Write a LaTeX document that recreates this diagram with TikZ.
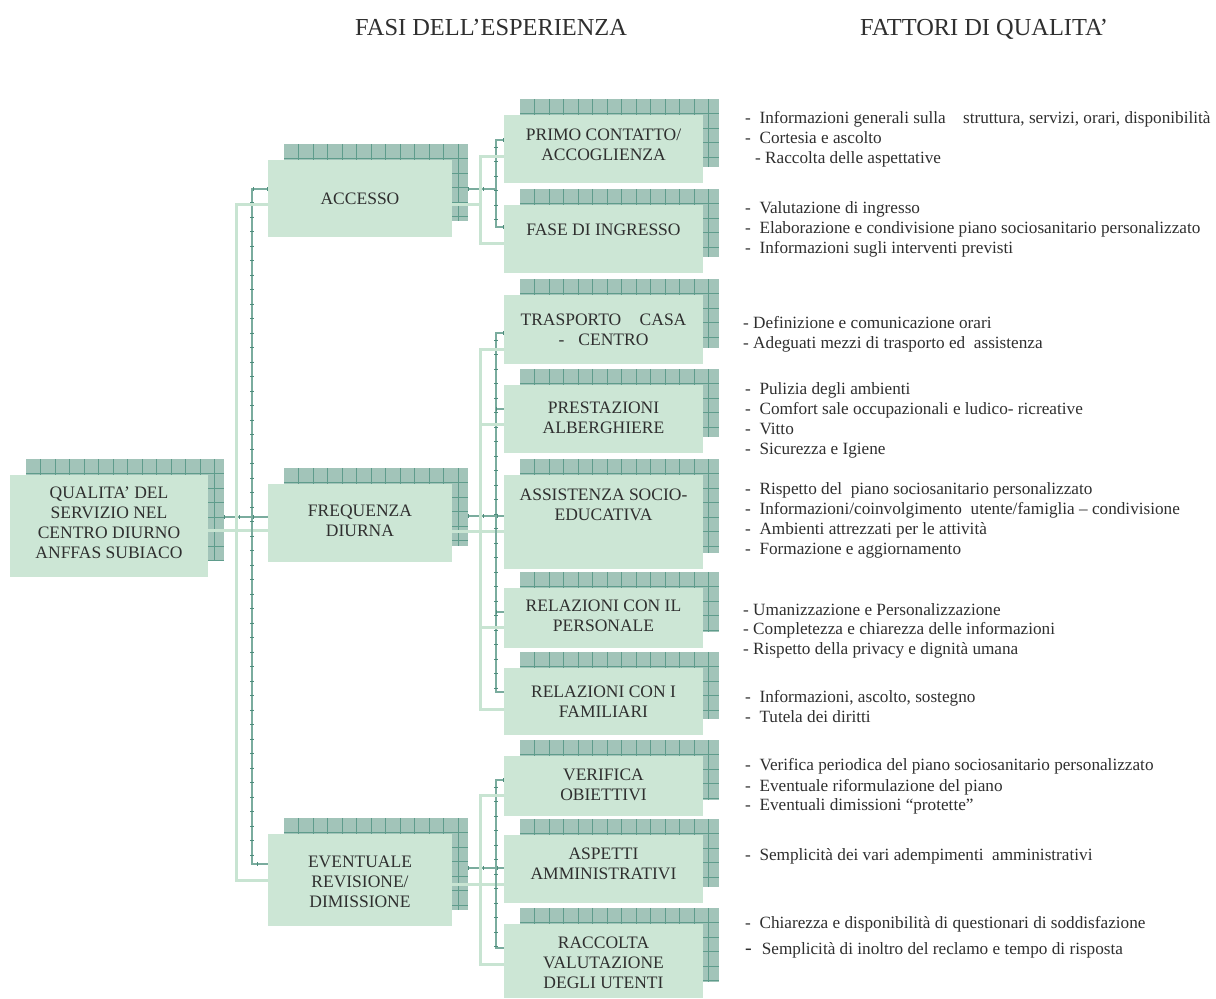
\documentclass[tikz,border=0pt]{standalone}
\usepackage{fontspec}
\setmainfont{Liberation Serif}
\usetikzlibrary{calc}
\pgfdeclarelayer{paper}
\pgfdeclarelayer{shad}
\pgfdeclarelayer{conn}
\pgfsetlayers{paper,shad,conn,main}

\definecolor{frontfill}{HTML}{CCE6D5}
\definecolor{shadefill}{HTML}{A2C4B9}
\definecolor{gridcol}{HTML}{5F9C8C}
\definecolor{linkdark}{HTML}{7AAC9E}
\definecolor{tickdark}{HTML}{4E8C7C}
\definecolor{linklight}{HTML}{C8E4D2}
\definecolor{ink}{HTML}{2F2F2F}

\tikzset{
  front/.style={fill=frontfill, anchor=north west, inner sep=0pt, outer sep=0pt},
  gridshade/.style={fill=shadefill, anchor=north west, inner sep=0pt, outer sep=0pt,
    path picture={
      \foreach \k in {1,...,14}{
        \draw[gridline] ([xshift=\k*14.5pt]path picture bounding box.north west)
          -- ([xshift=\k*14.5pt]path picture bounding box.south west);
        \draw[gridline] ([yshift=-\k*14.5pt]path picture bounding box.north west)
          -- ([yshift=-\k*14.5pt]path picture bounding box.north east);
      }
    }},
  gridline/.style={draw=gridcol, line width=0.8pt},
  wide/.style={minimum width=198pt},
  mid/.style={minimum width=184pt},
  narrow/.style={minimum width=199pt},
  boxlabel/.style={align=center, text=ink, inner sep=0pt,
    font=\fontsize{17.5}{20}\selectfont},
  item/.style={anchor=base west, text=ink, inner sep=0pt,
    font=\fontsize{17.2}{20}\selectfont},
  heading/.style={anchor=base west, text=ink, inner sep=0pt,
    font=\fontsize{24.4}{28}\selectfont},
  darklink/.style={draw=linkdark, line width=1.8pt,
    postaction={draw=tickdark, line width=3.2pt, dash pattern=on 1pt off 13.5pt}},
  lightlink/.style={draw=linklight, line width=3pt}
}

\begin{document}
\begin{tikzpicture}[x=1pt, y=-1pt]
\useasboundingbox (0,0) rectangle (1216,999);
\begin{pgfonlayer}{paper}
\fill[white] (0,0) rectangle (1216,999);
\end{pgfonlayer}

% column headings
\node[heading] (hfasi) at (355,35) {FASI DELL’ESPERIENZA};
\node[heading] (hfatt) at (860,35) {FATTORI DI QUALITA’};

% shaded grid plates behind every box
\begin{pgfonlayer}{shad}
\node[gridshade, wide,   minimum height=102pt] (rootS)   at (26,459)  {};
\node[gridshade, mid,    minimum height=77pt]  (accS)    at (284,144) {};
\node[gridshade, mid,    minimum height=78pt]  (freqS)   at (284,468) {};
\node[gridshade, mid,    minimum height=92pt]  (evS)     at (284,818) {};
\node[gridshade, narrow, minimum height=68pt]  (primoS)  at (520,99)  {};
\node[gridshade, narrow, minimum height=68pt]  (faseS)   at (520,189) {};
\node[gridshade, narrow, minimum height=69pt]  (traspS)  at (520,279) {};
\node[gridshade, narrow, minimum height=68pt]  (prestS)  at (520,369) {};
\node[gridshade, narrow, minimum height=94pt]  (assistS) at (520,459) {};
\node[gridshade, narrow, minimum height=60pt]  (persS)   at (520,572) {};
\node[gridshade, narrow, minimum height=67pt]  (famS)    at (520,652) {};
\node[gridshade, narrow, minimum height=60pt]  (verifS)  at (520,740) {};
\node[gridshade, narrow, minimum height=68pt]  (aspS)    at (520,819) {};
\node[gridshade, narrow, minimum height=74pt]  (raccS)   at (520,908) {};
\end{pgfonlayer}

% front boxes
\node[front, wide,   minimum height=102pt] (root)   at (10,475)  {};
\node[front, mid,    minimum height=77pt]  (acc)    at (268,160) {};
\node[front, mid,    minimum height=78pt]  (freq)   at (268,484) {};
\node[front, mid,    minimum height=92pt]  (ev)     at (268,834) {};
\node[front, narrow, minimum height=68pt]  (primo)  at (504,115) {};
\node[front, narrow, minimum height=68pt]  (fase)   at (504,205) {};
\node[front, narrow, minimum height=69pt]  (trasp)  at (504,295) {};
\node[front, narrow, minimum height=68pt]  (prest)  at (504,385) {};
\node[front, narrow, minimum height=94pt]  (assist) at (504,475) {};
\node[front, narrow, minimum height=60pt]  (pers)   at (504,588) {};
\node[front, narrow, minimum height=67pt]  (fam)    at (504,668) {};
\node[front, narrow, minimum height=60pt]  (verif)  at (504,756) {};
\node[front, narrow, minimum height=68pt]  (asp)    at (504,835) {};
\node[front, narrow, minimum height=74pt]  (racc)   at (504,924) {};

% box captions
\node[boxlabel] (rootT)   at ([yshift=3pt]root.center)   {QUALITA’ DEL\\SERVIZIO NEL\\CENTRO DIURNO\\ANFFAS SUBIACO};
\node[boxlabel] (accT)    at (acc.center)                {ACCESSO};
\node[boxlabel] (freqT)   at ([yshift=2pt]freq.center)   {FREQUENZA\\DIURNA};
\node[boxlabel] (evT)     at ([yshift=-2pt]ev.center)    {EVENTUALE\\REVISIONE/\\DIMISSIONE};
\node[boxlabel] (primoT)  at ([yshift=4pt]primo.center)  {PRIMO CONTATTO/\\ACCOGLIENZA};
\node[boxlabel] (faseT)   at ([yshift=9pt]fase.center)   {FASE DI INGRESSO};
\node[boxlabel] (traspT)  at (trasp.center)              {TRASPORTO\hspace{14pt} CASA\\-\hspace{14pt}CENTRO};
\node[boxlabel] (prestT)  at ([yshift=1pt]prest.center)  {PRESTAZIONI\\ALBERGHIERE};
\node[boxlabel] (assistT) at ([yshift=17pt]assist.center){ASSISTENZA SOCIO-\\EDUCATIVA};
\node[boxlabel] (persT)   at ([yshift=2pt]pers.center)   {RELAZIONI CON IL\\PERSONALE};
\node[boxlabel] (famT)    at (fam.center)                {RELAZIONI CON I\\FAMILIARI};
\node[boxlabel] (verifT)  at ([yshift=1pt]verif.center)  {VERIFICA\\OBIETTIVI};
\node[boxlabel] (aspT)    at ([yshift=5pt]asp.center)    {ASPETTI\\AMMINISTRATIVI};
\node[boxlabel] (raccT)   at ([yshift=-2pt]racc.center)  {RACCOLTA\\VALUTAZIONE\\DEGLI UTENTI};

% spine corners
\coordinate (dL1) at (252,189);  \coordinate (dL2) at (252,864);
\coordinate (lL1) at (236,204);  \coordinate (lL2) at (236,880);
\coordinate (dA1) at (496,140);  \coordinate (dA2) at (496,227);
\coordinate (lA1) at (480,156);  \coordinate (lA2) at (480,243);
\coordinate (dF1) at (496,333);  \coordinate (dF2) at (496,692);
\coordinate (lF1) at (480,349);  \coordinate (lF2) at (480,709);
\coordinate (dE1) at (496,780);  \coordinate (dE2) at (496,948);
\coordinate (lE1) at (480,795);  \coordinate (lE2) at (480,964);

% connectors
\begin{pgfonlayer}{conn}
% left tree
\draw[darklink]  (rootS.east |- 0,517) -- (freq.west |- 0,517);
\draw[lightlink] (root.east |- 0,530) -- (freq.west |- 0,530);
\draw[darklink]  (acc.west |- dL1) -- (dL1) -- (dL2) -- (ev.west |- dL2);
\draw[lightlink] (acc.west |- lL1) -- (lL1) -- (lL2) -- (ev.west |- lL2);
% ACCESSO branch
\draw[darklink]  (accS.east |- 0,189) -- (dA1 |- 0,189);
\draw[lightlink] (acc.east |- 0,204) -- (lA1 |- 0,204);
\draw[darklink]  (primo.west |- dA1) -- (dA1) -- (dA2) -- (fase.west |- dA2);
\draw[lightlink] (primo.west |- lA1) -- (lA1) -- (lA2) -- (fase.west |- lA2);
% FREQUENZA branch
\draw[darklink]  (freqS.east |- 0,516) -- (assist.west |- 0,516);
\draw[lightlink] (freq.east |- 0,531) -- (assist.west |- 0,531);
\draw[darklink]  (trasp.west |- dF1) -- (dF1) -- (dF2) -- (fam.west |- dF2);
\draw[lightlink] (trasp.west |- lF1) -- (lF1) -- (lF2) -- (fam.west |- lF2);
\draw[darklink]  (dF1 |- 0,409) -- (prest.west |- 0,409);
\draw[lightlink] (lF1 |- 0,424) -- (prest.west |- 0,424);
\draw[darklink]  (dF1 |- 0,612) -- (pers.west |- 0,612);
\draw[lightlink] (lF1 |- 0,627) -- (pers.west |- 0,627);
% EVENTUALE branch
\draw[darklink]  (evS.east |- 0,868) -- (asp.west |- 0,868);
\draw[lightlink] (ev.east |- 0,884) -- (asp.west |- 0,884);
\draw[darklink]  (verif.west |- dE1) -- (dE1) -- (dE2) -- (racc.west |- dE2);
\draw[lightlink] (verif.west |- lE1) -- (lE1) -- (lE2) -- (racc.west |- lE2);
\end{pgfonlayer}

% quality factors
\node[item] (f1a) at (745,123) {-~~Informazioni generali sulla\hspace{13pt} struttura, servizi, orari, disponibilità};
\node[item] (f1b) at (745,143) {-~~Cortesia e ascolto};
\node[item] (f1c) at (755,163) {- Raccolta delle aspettative};

\node[item] (f2a) at (745,213) {-~~Valutazione di ingresso};
\node[item] (f2b) at (745,233) {-~~Elaborazione e condivisione piano sociosanitario personalizzato};
\node[item] (f2c) at (745,253) {-~~Informazioni sugli interventi previsti};

\node[item] (f3a) at (743,328) {- Definizione e comunicazione orari};
\node[item] (f3b) at (743,348) {- Adeguati mezzi di trasporto ed~~assistenza};

\node[item] (f4a) at (745,394) {-~~Pulizia degli ambienti};
\node[item] (f4b) at (745,414) {-~~Comfort sale occupazionali e ludico- ricreative};
\node[item] (f4c) at (745,434) {-~~Vitto};
\node[item] (f4d) at (745,454) {-~~Sicurezza e Igiene};

\node[item] (f5a) at (745,494) {-~~Rispetto del~~piano sociosanitario personalizzato};
\node[item] (f5b) at (745,514) {-~~Informazioni/coinvolgimento~~utente/famiglia – condivisione};
\node[item] (f5c) at (745,534) {-~~Ambienti attrezzati per le attività};
\node[item] (f5d) at (745,554) {-~~Formazione e aggiornamento};

\node[item] (f6a) at (743,615) {- Umanizzazione e Personalizzazione};
\node[item] (f6b) at (743,634) {- Completezza e chiarezza delle informazioni};
\node[item] (f6c) at (743,654) {- Rispetto della privacy e dignità umana};

\node[item] (f7a) at (745,702) {-~~Informazioni, ascolto, sostegno};
\node[item] (f7b) at (745,722) {-~~Tutela dei diritti};

\node[item] (f8a) at (745,770) {-~~Verifica periodica del piano sociosanitario personalizzato};
\node[item] (f8b) at (745,791) {-~~Eventuale riformulazione del piano};
\node[item] (f8c) at (745,810) {-~~Eventuali dimissioni “protette”};

\node[item] (f9a) at (745,860) {-~~Semplicità dei vari adempimenti~~amministrativi};

\node[item] (f10a) at (745,928) {-~~Chiarezza e disponibilità di questionari di soddisfazione};
\node[item] (f10b) at (745,954) {{\fontsize{20}{20}\selectfont -}\hspace{10pt}Semplicità di inoltro del reclamo e tempo di risposta};
\end{tikzpicture}
\end{document}
